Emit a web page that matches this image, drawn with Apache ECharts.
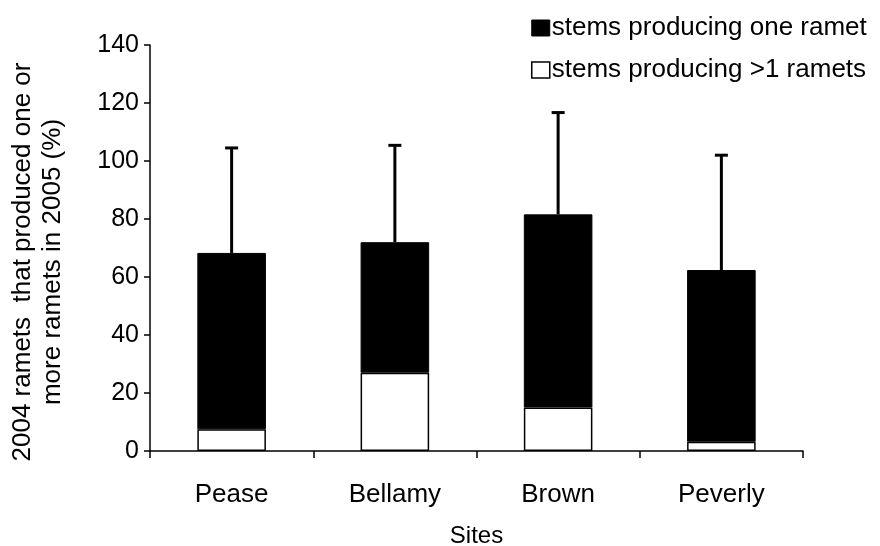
<!DOCTYPE html>
<html><head><meta charset="utf-8">
<script src="https://cdn.jsdelivr.net/npm/echarts@6/dist/echarts.min.js"></script>
<style>html,body{margin:0;padding:0;background:#fff}#c{width:880px;height:546px}</style>
</head><body><div id="c"></div>
<script>
const sites = ['Pease', 'Bellamy', 'Brown', 'Peverly'];
const multiRamets = [7.5, 27, 15, 3.2];        // stems producing >1 ramets (white, bottom)
const oneRamet = [60.8, 45, 66.6, 59.2];       // stems producing one ramet (black, stacked)
const errorUpper = [104.5, 105.4, 116.7, 102]; // top of error bar
const yTicks = [0, 20, 40, 60, 80, 100, 120, 140];

const font = 'Liberation Sans, Arial, sans-serif';
const totals = sites.map((s, i) => multiRamets[i] + oneRamet[i]);
const errData = sites.map((s, i) => [i, totals[i], errorUpper[i]]);

const chart = echarts.init(document.getElementById('c'));
chart.setOption({
  animation: false,
  backgroundColor: '#fff',
  grid: { left: 150, right: 77, top: 45, bottom: 95, outerBoundsMode: 'none', containLabel: false },
  legend: {
    orient: 'vertical', left: 531, top: 14, itemGap: 14,
    itemWidth: 18, itemHeight: 16, icon: 'rect', padding: 0,
    textStyle: { fontFamily: font, fontSize: 26, color: '#000', padding: [0, 0, 0, -3], lineHeight: 28 },
    data: [
      { name: 'stems producing one ramet', itemStyle: { color: '#000', borderColor: '#000', borderWidth: 1 } },
      { name: 'stems producing >1 ramets', itemStyle: { color: '#fff', borderColor: '#000', borderWidth: 1.5 } }
    ]
  },
  xAxis: {
    type: 'category', data: sites,
    name: 'Sites', nameLocation: 'middle', nameGap: 73,
    nameTextStyle: { fontFamily: font, fontSize: 24, color: '#000' },
    axisLine: { lineStyle: { color: '#000', width: 1.5 } },
    axisTick: { show: true, length: 7, lineStyle: { color: '#000', width: 1.5 } },
    axisLabel: { fontFamily: font, fontSize: 26, color: '#000', margin: 31 }
  },
  yAxis: {
    type: 'value', min: 0, max: 140, interval: 20,
    name: '2004 ramets  that produced one or\nmore ramets in 2005 (%)',
    nameLocation: 'middle', nameGap: 82,
    nameTextStyle: { fontFamily: font, fontSize: 26, color: '#000', lineHeight: 30, align: 'center', padding: [0, 28, 0, 0] },
    axisLine: { show: true, lineStyle: { color: '#000', width: 1.5 } },
    axisTick: { show: true, length: 6, lineStyle: { color: '#000', width: 1.5 } },
    axisLabel: { fontFamily: font, fontSize: 25, color: '#000', margin: 11,
      formatter: v => yTicks.includes(v) ? String(v) : '' },
    splitLine: { show: false }
  },
  series: [
    {
      name: 'stems producing >1 ramets', type: 'bar', stack: 's', data: multiRamets,
      barWidth: '42%',
      itemStyle: { color: '#fff', borderColor: '#000', borderWidth: 1.5 }
    },
    {
      name: 'stems producing one ramet', type: 'bar', stack: 's', data: oneRamet,
      barWidth: '42%',
      itemStyle: { color: '#000', borderColor: '#000', borderWidth: 1 }
    },
    {
      name: 'err', type: 'custom', data: errData, z: 1,
      renderItem: function (params, api) {
        const x = api.value(0);
        const lo = api.coord([x, api.value(1)]);
        const hi = api.coord([x, api.value(2)]);
        const cap = 6.5;
        const st = { stroke: '#000', lineWidth: 3 };
        return { type: 'group', children: [
          { type: 'line', shape: { x1: lo[0], y1: lo[1], x2: hi[0], y2: hi[1] }, style: st },
          { type: 'line', shape: { x1: hi[0] - cap, y1: hi[1], x2: hi[0] + cap, y2: hi[1] }, style: st }
        ]};
      }
    }
  ]
});
</script></body></html>
